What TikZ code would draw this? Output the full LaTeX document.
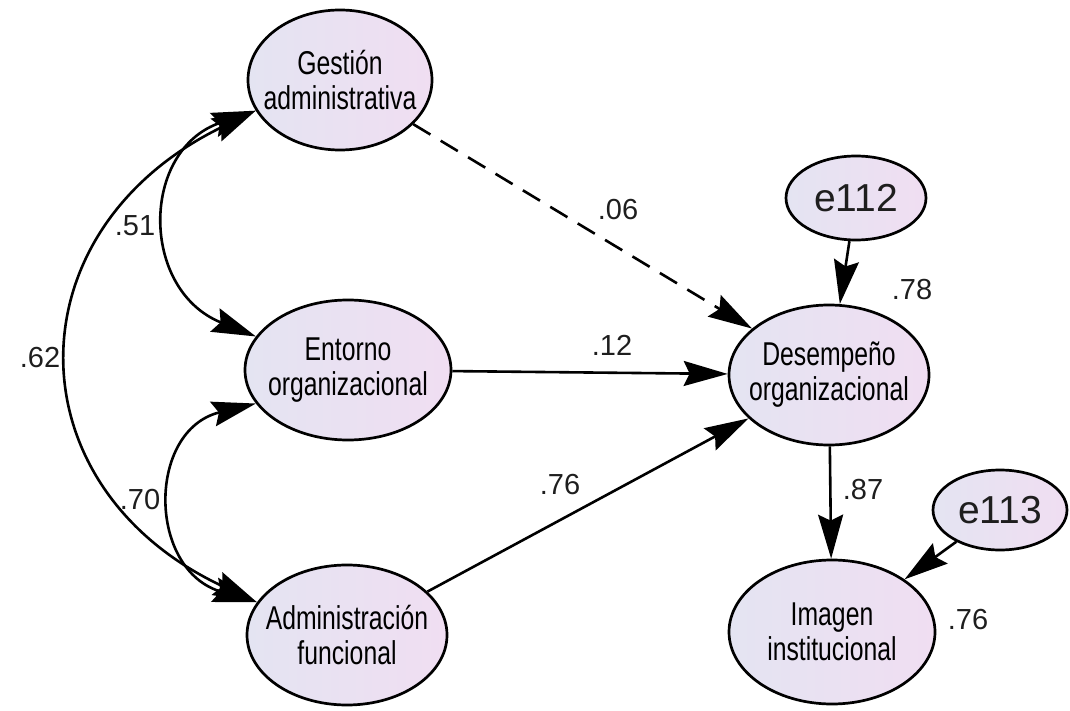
\documentclass[tikz,border=0pt]{standalone}
\usepackage{fontspec}
\setmainfont{Liberation Sans}
\newfontfamily\narrowsf[FakeStretch=0.75]{Liberation Sans}
\usetikzlibrary{arrows.meta,shapes.geometric}
\definecolor{fillL}{RGB}{228,228,242}
\definecolor{fillR}{RGB}{240,222,242}
\definecolor{numtext}{RGB}{30,30,30}
\tikzset{
  % ellipse outline sized explicitly; the caption is a centred label
  latent/.style n args={3}{ellipse, draw=black, line width=2.7pt,
    left color=fillL, right color=fillR, inner sep=0pt,
    minimum width=#1, minimum height=#2,
    label={[align=center, text=black, inner sep=0pt,
      font=\narrowsf\fontsize{33}{35}\selectfont]center:#3}},
  errvar/.style 2 args={ellipse, draw=black, line width=2.7pt,
    left color=fillL, right color=fillR, inner sep=0pt,
    minimum width=#1, minimum height=#2, text=numtext,
    font=\fontsize{39}{44}\selectfont},
  tip/.tip={Stealth[length=44pt,width=25pt,inset=6pt]},
  path/.style={line width=2.6pt, -tip},
  cov/.style={line width=2.6pt, tip-tip},
  coef/.style={text=numtext, font=\fontsize{29}{32}\selectfont, inner sep=0pt},
}
\begin{document}
\begin{tikzpicture}[x=1pt, y=-1pt]
  \useasboundingbox (0,0) rectangle (1070,711);

  % latent variables
  \node[latent={184pt}{140pt}{Gestión\\administrativa}] (G) at (340,80) {};
  \node[latent={206pt}{140pt}{Entorno\\organizacional}] (E) at (348,370) {};
  \node[latent={200pt}{140pt}{Administración\\funcional}] (A) at (347,635) {};
  \node[latent={200pt}{140pt}{Desempeño\\organizacional}] (D) at (829,375) {};
  \node[latent={206pt}{144pt}{Imagen\\institucional}] (I) at (832,632) {};

  % error terms
  \node[errvar={140pt}{84pt}] (e1) at (856,198) {e112};
  \node[errvar={134pt}{80pt}] (e2) at (1000,510) {e113};

  % structural paths
  \draw[path, dash pattern=on 20pt off 12pt] (G) -- (D);
  \draw[path] (E) -- (D);
  \draw[path] (A) -- (D);
  \draw[path] (e1) -- (D);
  \draw[path] (D) -- (I);
  \draw[path] (e2) -- (I);

  % covariances
  \draw[cov] (G.200) .. controls (140,150) and (140,290) .. (E.160);
  \draw[cov] (E.200) .. controls (147,430) and (147,570) .. (A.160);
  \draw[cov] (G.200) .. controls (10,230) and (10,487) .. (A.160);

  % coefficients
  \node[coef] (c1) at (618,210) {.06};
  \node[coef] (c2) at (612,345) {.12};
  \node[coef] (c3) at (560,485) {.76};
  \node[coef] (c4) at (912,290) {.78};
  \node[coef] (c5) at (863,490) {.87};
  \node[coef] (c6) at (968,620) {.76};
  \node[coef] (c7) at (135,226) {.51};
  \node[coef] (c8) at (40,358) {.62};
  \node[coef] (c9) at (140,500) {.70};
\end{tikzpicture}
\end{document}
